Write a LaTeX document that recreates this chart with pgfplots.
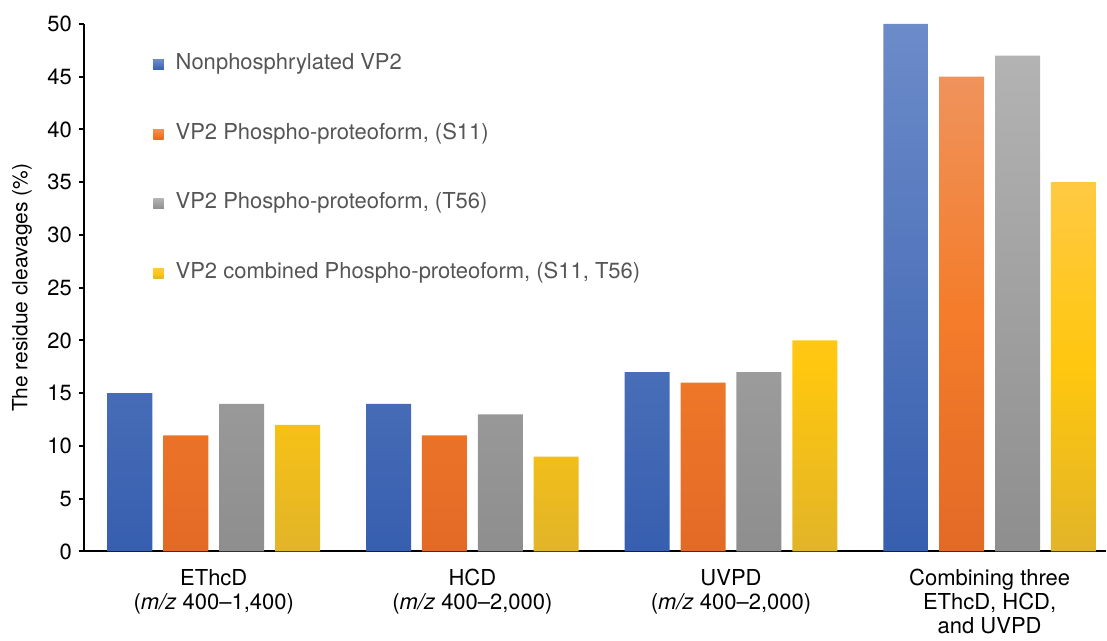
\documentclass[border=0pt]{standalone}
\usepackage{fontspec}
\setmainfont{TeX Gyre Heros}
\usepackage{pgfplots}
\pgfplotsset{compat=1.18}
\definecolor{bluetop}{HTML}{6C8BC9}
\definecolor{bluebot}{HTML}{375FAF}
\definecolor{bluel}{HTML}{3F67B5}
\definecolor{orgtop}{HTML}{EF935C}
\definecolor{orgmid}{HTML}{F47C2A}
\definecolor{orgbot}{HTML}{E26A26}
\definecolor{orgl}{HTML}{EE7533}
\definecolor{grytop}{HTML}{B3B3B3}
\definecolor{grybot}{HTML}{8E8E8E}
\definecolor{gryl}{HTML}{A6A6A6}
\definecolor{yeltop}{HTML}{FFC943}
\definecolor{yelmid}{HTML}{FFC70E}
\definecolor{yelbot}{HTML}{E2B428}
\definecolor{yell}{HTML}{FFC516}
\definecolor{legtext}{HTML}{555555}
\begin{document}
\begin{tikzpicture}
\begin{axis}[
  scale only axis, width=511.5pt, height=264pt,
  xmin=-0.502, xmax=3.45, ymin=0, ymax=50,
  axis x line=bottom, axis y line=left,
  axis line style={-, line width=1pt, black},
  ytick={0,5,...,50},
  xtick={0,1,2,3},
  xticklabels={{EThcD\\(\textit{m/z} 400–1,400)},{HCD\\(\textit{m/z} 400–2,000)},{UVPD\\(\textit{m/z} 400–2,000)},{Combining three\\EThcD, HCD,\\and UVPD}},
  x tick style={draw=none},
  y tick style={line width=1pt, black},
  tick align=outside, major tick length=2.5pt,
  /pgf/number format/assume math mode=true,
  yticklabel style={font=\fontsize{11}{13}\selectfont, black},
  xticklabel style={font=\fontsize{11}{12}\selectfont, align=center, black, yshift=-3pt},
  ylabel={The residue cleavages (\%)},
  ylabel style={font=\fontsize{10.5}{12}\selectfont, at={(rel axis cs:0,0.5)}, anchor=center, yshift=31pt},
  legend style={at={(rel axis cs:0.0616,0.952)}, anchor=north west, draw=none, fill=none,
    font=\fontsize{11}{13}\selectfont, text=legtext, row sep=23.8pt, column sep=6pt,
    nodes={inner sep=0pt, text height=8pt, text depth=3pt}},
  legend cell align=left,
]
\addplot[ybar, bar width=0.174, draw=none, top color=bluetop, bottom color=bluebot,
  legend image code/.code={\fill[bluel] (0pt,-2.6pt) rectangle (5.2pt,2.6pt);}]
  coordinates {(-0.324,15) (0.676,14) (1.676,17) (2.676,50)};
\addplot[ybar, bar width=0.174, draw=none, top color=orgtop, bottom color=orgbot, middle color=orgmid,
  legend image code/.code={\fill[orgl] (0pt,-2.6pt) rectangle (5.2pt,2.6pt);}]
  coordinates {(-0.108,11) (0.892,11) (1.892,16) (2.892,45)};
\addplot[ybar, bar width=0.174, draw=none, top color=grytop, bottom color=grybot,
  legend image code/.code={\fill[gryl] (0pt,-2.6pt) rectangle (5.2pt,2.6pt);}]
  coordinates {(0.108,14) (1.108,13) (2.108,17) (3.108,47)};
\addplot[ybar, bar width=0.174, draw=none, top color=yeltop, bottom color=yelbot, middle color=yelmid,
  legend image code/.code={\fill[yell] (0pt,-2.6pt) rectangle (5.2pt,2.6pt);}]
  coordinates {(0.324,12) (1.324,9) (2.324,20) (3.324,35)};
\legend{{Nonphosphrylated VP2}, {VP2 Phospho-proteoform, (S11)}, {VP2 Phospho-proteoform, (T56)}, {VP2 combined Phospho-proteoform, (S11, T56)}}
\end{axis}
\path (current axis.south west) ++(-42pt,-40pt) rectangle ++(553.5pt,316pt);
\end{tikzpicture}
\end{document}
